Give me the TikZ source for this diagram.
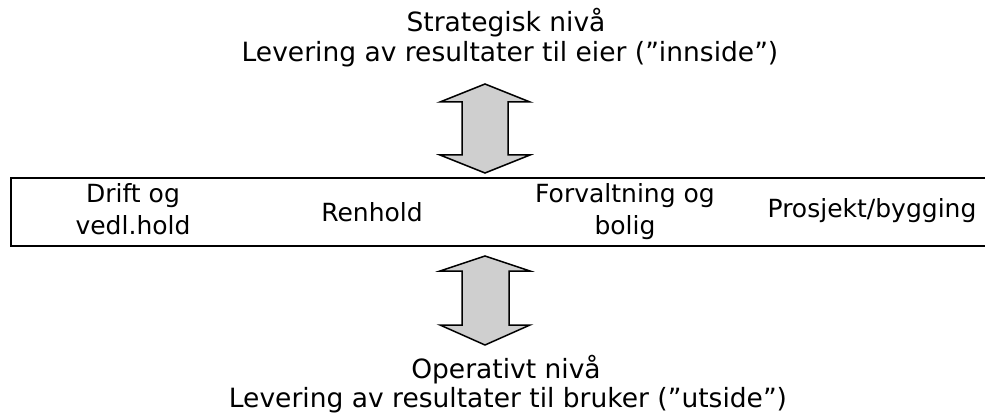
\documentclass[tikz,border=0pt]{standalone}
\usepackage{fontspec}
\setmainfont{DejaVu Sans}
\begin{document}
\begin{tikzpicture}[x=1pt,y=-1pt,
  level/.style={font=\fontsize{26.5}{30}\selectfont,inner sep=0pt,anchor=base},
  area/.style={font=\fontsize{25}{32}\selectfont,inner sep=0pt,anchor=base},
  twoway/.style={draw=black,line width=1.5pt,fill=gray!38,line join=miter},
  frame/.style={draw=black,line width=1.5pt}]
\useasboundingbox (0,0) rectangle (985,414);

% strategic level heading
\node[level] (topA) at (506,32) {Strategisk nivå};
\node[level] (topB) at (510,62) {Levering av resultater til eier (”innside”)};

% double arrow between strategic level and the service areas
\draw[twoway] (485,84) -- (530,102) -- (508,102) -- (508,155) -- (530,155)
  -- (485,173) -- (440,155) -- (462,155) -- (462,102) -- (440,102) -- cycle;

% band with the service areas (open to the right)
\coordinate (bandTR) at (992,178);
\coordinate (bandTL) at (11,178);
\coordinate (bandBL) at (11,246);
\coordinate (bandBR) at (992,246);
\draw[frame] (bandTR) -- (bandTL) -- (bandBL) -- (bandBR);

\node[area] (driftA) at (133,203) {Drift og};
\node[area] (driftB) at (133,235) {vedl.hold};
\node[area] (renhold) at (372,222) {Renhold};
\node[area] (forvA) at (625,203) {Forvaltning og};
\node[area] (forvB) at (625,235) {bolig};
\node[area] (prosj) at (872,218) {Prosjekt/bygging};

% double arrow between the service areas and the operative level
\draw[twoway] (485,256) -- (530,271) -- (509,271) -- (509,325) -- (530,325)
  -- (485,345) -- (440,325) -- (462,325) -- (462,271) -- (440,271) -- cycle;

% operative level heading
\node[level] (botA) at (506,378) {Operativt nivå};
\node[level] (botB) at (508,407) {Levering av resultater til bruker (”utside”)};
\end{tikzpicture}
\end{document}
